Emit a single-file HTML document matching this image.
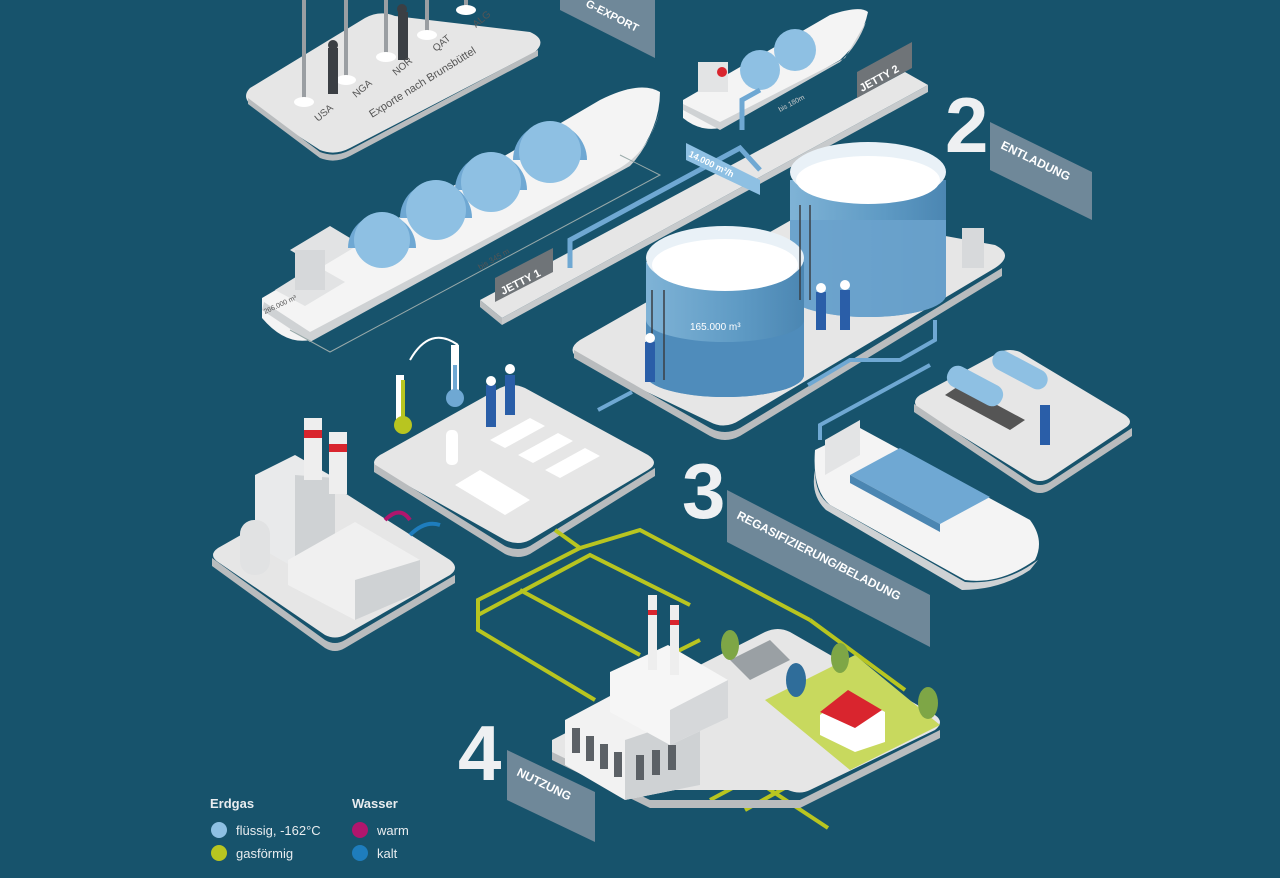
<!DOCTYPE html>
<html><head><meta charset="utf-8"><style>
html,body{margin:0;padding:0;background:#17536c;}
svg{display:block;font-family:"Liberation Sans",sans-serif;}
</style></head><body>
<svg width="1280" height="878" viewBox="0 0 1280 878" xmlns="http://www.w3.org/2000/svg">
<rect width="1280" height="878" fill="#17536c"/>
<defs>
<linearGradient id="tank" x1="0" x2="1"><stop offset="0" stop-color="#7fb3d6"/><stop offset="0.6" stop-color="#5e9ac4"/><stop offset="1" stop-color="#4b86b2"/></linearGradient>
</defs>

<!-- top-left flag platform -->
<path d="M250,88 L365,18 Q380,10 395,16 L530,32 Q548,40 535,52 L350,148 Q335,156 320,150 L255,108 Q240,98 250,88Z" fill="#e6e6e6"/>
<path d="M248,98 L320,152 Q335,158 350,150 L538,50 L538,56 L350,156 Q335,164 320,158 L248,104Z" fill="#b9bcbe"/>
<g stroke="#9a9ea2" stroke-width="4">
<line x1="304" y1="0" x2="304" y2="100"/><line x1="346" y1="0" x2="346" y2="78"/><line x1="386" y1="0" x2="386" y2="55"/><line x1="427" y1="0" x2="427" y2="34"/><line x1="466" y1="0" x2="466" y2="8"/>
</g>
<g fill="#fff"><ellipse cx="304" cy="102" rx="10" ry="5"/><ellipse cx="346" cy="80" rx="10" ry="5"/><ellipse cx="386" cy="57" rx="10" ry="5"/><ellipse cx="427" cy="35" rx="10" ry="5"/><ellipse cx="466" cy="10" rx="10" ry="5"/></g>
<g fill="#3b3f44"><rect x="328" y="48" width="10" height="46"/><circle cx="333" cy="45" r="5"/><rect x="398" y="12" width="10" height="48"/><circle cx="402" cy="9" r="5"/></g>
<g font-size="10" fill="#555" >
<text transform="translate(318,122) rotate(-40)">USA</text>
<text transform="translate(356,98) rotate(-40)">NGA</text>
<text transform="translate(396,76) rotate(-40)">NOR</text>
<text transform="translate(436,52) rotate(-40)">QAT</text>
<text transform="translate(476,28) rotate(-40)">ALG</text>
<text transform="translate(372,118) rotate(-32)" font-size="11">Exporte nach Brunsbüttel</text>
</g>
<!-- G-EXPORT label -->
<path d="M560,0 L655,0 L655,58 L560,10Z" fill="#6f8899"/>
<text transform="translate(585,6) rotate(27)" font-size="11" font-weight="bold" fill="#fff">G-EXPORT</text>

<!-- big ship -->
<path d="M262,298 L600,100 Q640,80 660,92 Q660,130 630,165 L310,340 Q285,345 262,318Z" fill="#f4f4f4"/>
<path d="M262,310 L310,342 L630,166 Q650,145 660,110 Q650,150 620,168 L310,332 L264,302Z" fill="#cfd2d4"/>
<g fill="#e2e3e4"><path d="M275,290 L315,265 L345,282 L305,306Z"/><path d="M290,250 L330,226 L360,244 L320,268Z"/><rect x="295" y="250" width="30" height="40" fill="#d6d8da"/></g>
<g fill="#6fa8d3"><path d="M348,248 a34,34 0 0 1 68,0Z"/><path d="M400,218 a36,36 0 0 1 72,0Z"/><path d="M455,190 a36,36 0 0 1 72,0Z"/><path d="M513,160 a37,37 0 0 1 74,0Z"/></g>
<g fill="#8ec0e3"><circle cx="382" cy="240" r="28"/><circle cx="436" cy="210" r="30"/><circle cx="491" cy="182" r="30"/><circle cx="550" cy="152" r="31"/></g>
<text transform="translate(265,314) rotate(-25)" font-size="7" fill="#555">266.000 m³</text>
<text transform="translate(480,270) rotate(-30)" font-size="8" fill="#555">bis 345 m</text>
<polyline points="290,330 330,352 660,175 620,155" fill="none" stroke="#9aa" stroke-width="1"/>

<!-- jetty 2 ship -->
<path d="M683,100 L830,15 Q860,5 868,12 Q862,40 840,60 L720,128 Q700,132 683,118Z" fill="#f4f4f4"/>
<path d="M683,110 L720,130 L840,62 Q858,45 866,22 L845,58 L720,122 L683,104Z" fill="#cfd2d4"/>
<rect x="698" y="62" width="30" height="30" fill="#e3e4e5"/>
<circle cx="722" cy="72" r="5" fill="#d9252e"/>
<g fill="#8ec0e3"><circle cx="760" cy="70" r="20"/><circle cx="795" cy="50" r="21"/></g>
<text transform="translate(780,112) rotate(-28)" font-size="7" fill="#ccc">bis 180m</text>
<!-- long pier -->
<path d="M480,300 L905,72 L928,85 L502,318Z" fill="#e6e6e6"/>
<path d="M480,300 L502,318 L502,325 L480,307Z" fill="#b9bcbe"/>
<path d="M502,318 L928,85 L928,92 L502,325Z" fill="#c7cacc"/>
<path d="M570,268 L570,240 L740,148 L760,170" fill="none" stroke="#6fa8d3" stroke-width="5"/>
<path d="M742,130 L742,100 L760,90" fill="none" stroke="#6fa8d3" stroke-width="5"/>
<!-- JETTY labels -->
<path d="M495,278 L553,248 L553,272 L495,302Z" fill="#6f7478"/>
<text transform="translate(503,295) rotate(-27)" font-size="11" font-weight="bold" fill="#fff">JETTY 1</text>
<path d="M857,72 L912,42 L912,68 L857,98Z" fill="#6f7478"/>
<text transform="translate(862,92) rotate(-29)" font-size="11" font-weight="bold" fill="#fff">JETTY 2</text>
<path d="M686,143 L760,180 L760,195 L686,160Z" fill="#8ec0e3"/>
<text transform="translate(688,156) rotate(26)" font-size="9" font-weight="bold" fill="#fff">14.000 m³/h</text>

<!-- 2 ENTLADUNG -->
<text x="945" y="152" font-size="78" font-weight="bold" fill="#eef0f2">2</text>
<path d="M990,122 L1092,172 L1092,220 L990,170Z" fill="#6f8899"/>
<text transform="translate(1000,148) rotate(26)" font-size="12" font-weight="bold" fill="#fff">ENTLADUNG</text>

<!-- tank platform -->
<path d="M580,340 L800,215 Q815,208 830,215 L995,245 Q1015,255 995,268 L740,420 Q725,430 710,422 L580,360 Q565,350 580,340Z" fill="#e6e6e6"/>
<path d="M574,350 L710,428 Q725,436 740,428 L1002,268 L1002,276 L740,436 Q725,444 710,436 L574,358Z" fill="#b9bcbe"/>
<!-- tank 2 (back) -->
<path d="M790,180 L790,295 A78,22 0 0 0 946,295 L946,180Z" fill="url(#tank)"/>
<ellipse cx="868" cy="172" rx="78" ry="30" fill="#e9f1f7"/>
<ellipse cx="868" cy="180" rx="72" ry="24" fill="#fff"/>
<path d="M790,180 L790,295 A78,22 0 0 0 946,295 L946,220 L790,220Z" fill="#6aa2cc" opacity="0.9"/>
<!-- tank 1 (front) -->
<path d="M646,262 L646,375 A79,22 0 0 0 804,375 L804,262Z" fill="url(#tank)"/>
<ellipse cx="725" cy="258" rx="79" ry="32" fill="#e9f1f7"/>
<ellipse cx="725" cy="265" rx="73" ry="26" fill="#fff"/>
<path d="M646,320 L646,375 A79,22 0 0 0 804,375 L804,320 A79,22 0 0 1 646,320Z" fill="#4f8cbb"/>
<text x="690" y="330" font-size="10" fill="#fff">165.000 m³</text>
<g stroke="#3a3f44" stroke-width="1.5" fill="none"><path d="M652,290 L652,380 M664,290 L664,380"/><path d="M800,205 L800,300 M810,205 L810,300"/></g>
<rect x="962" y="228" width="22" height="40" fill="#d7d9db"/>
<g fill="#2a5ea8"><rect x="816" y="292" width="10" height="38"/><rect x="840" y="290" width="10" height="40"/><rect x="645" y="342" width="10" height="40"/></g>
<g fill="#fff"><circle cx="821" cy="288" r="5"/><circle cx="845" cy="285" r="5"/><circle cx="650" cy="338" r="5"/></g>

<!-- pipes blue -->
<path d="M808,385 L850,360 L900,360 L935,340 L935,320" fill="none" stroke="#6fa8d3" stroke-width="4"/>
<path d="M598,410 L632,392" fill="none" stroke="#6fa8d3" stroke-width="4"/>
<path d="M820,440 L820,425 L930,365" fill="none" stroke="#6fa8d3" stroke-width="4"/>

<!-- truck platform -->
<path d="M920,395 L1000,352 Q1010,348 1020,352 L1125,415 Q1135,422 1125,428 L1050,478 Q1040,484 1030,478 L920,410 Q910,402 920,395Z" fill="#e6e6e6"/>
<path d="M914,404 L1030,482 Q1040,488 1050,482 L1132,428 L1132,436 L1050,490 Q1040,496 1030,490 L914,412Z" fill="#b9bcbe"/>
<path d="M945,395 L1010,430 L1025,420 L960,385Z" fill="#555"/>
<rect x="945" y="375" width="60" height="22" rx="10" fill="#8ec0e3" transform="rotate(28 975 386)"/>
<rect x="990" y="360" width="60" height="20" rx="10" fill="#8ec0e3" transform="rotate(28 1020 370)"/>
<rect x="1040" y="405" width="10" height="40" fill="#2a5ea8"/>

<!-- bottom right ship -->
<path d="M815,450 L860,428 L1030,520 Q1045,540 1035,560 Q1000,585 965,580 L830,505 Q812,490 815,450Z" fill="#f4f4f4"/>
<path d="M815,470 Q815,495 830,505 L965,582 Q1005,585 1038,560 L1030,570 Q1000,590 962,590 L826,510 Q810,495 815,470Z" fill="#cfd2d4"/>
<path d="M850,475 L900,448 L990,497 L940,524Z" fill="#6fa8d3"/>
<path d="M850,475 L940,524 L940,532 L850,483Z" fill="#4b86b2"/>
<path d="M825,440 L860,420 L860,455 L825,475Z" fill="#e3e4e5"/>

<!-- regas platform -->
<path d="M380,455 L500,388 Q512,382 525,388 L648,455 Q660,463 648,470 L530,540 Q518,546 505,540 L380,470 Q368,463 380,455Z" fill="#e6e6e6"/>
<path d="M374,464 L505,546 Q518,552 530,546 L655,468 L655,476 L530,554 Q518,560 505,554 L374,472Z" fill="#b9bcbe"/>
<g fill="#fff"><path d="M490,440 L530,418 L545,426 L505,448Z"/><path d="M518,455 L558,433 L573,441 L533,463Z"/><path d="M545,470 L585,448 L600,456 L560,478Z"/><path d="M455,485 L480,470 L530,500 L505,515Z"/><rect x="446" y="430" width="12" height="35" rx="5"/></g>
<g fill="#2a5ea8"><rect x="486" y="385" width="10" height="42"/><rect x="505" y="375" width="10" height="40"/></g>
<g fill="#fff"><circle cx="491" cy="381" r="5"/><circle cx="510" cy="369" r="5"/></g>
<path d="M400,375 L400,425" stroke="#fff" stroke-width="8"/><circle cx="403" cy="425" r="9" fill="#b8c520"/><path d="M403,380 L403,425" stroke="#b8c520" stroke-width="4"/>
<path d="M455,345 L455,395" stroke="#fff" stroke-width="8"/><circle cx="455" cy="398" r="9" fill="#6fa8d3"/><path d="M455,365 L455,398" stroke="#6fa8d3" stroke-width="4"/>
<path d="M410,360 Q430,325 458,345" stroke="#fff" stroke-width="2" fill="none"/>

<!-- power plant left platform -->
<path d="M218,548 L320,490 Q330,485 340,490 L450,560 Q460,568 450,575 L345,635 Q335,640 325,635 L218,562 Q208,555 218,548Z" fill="#e6e6e6"/>
<path d="M212,558 L325,640 Q335,646 345,640 L455,575 L455,583 L345,648 Q335,654 325,648 L212,566Z" fill="#b9bcbe"/>
<path d="M255,475 L295,455 L335,478 L335,545 L295,568 L255,545Z" fill="#e9eaeb"/>
<path d="M295,475 L335,478 L335,545 L295,568Z" fill="#cfd2d4"/>
<rect x="304" y="418" width="18" height="62" fill="#eee"/><rect x="304" y="430" width="18" height="8" fill="#d9252e"/>
<rect x="329" y="432" width="18" height="62" fill="#eee"/><rect x="329" y="444" width="18" height="8" fill="#d9252e"/>
<path d="M288,560 L355,522 L420,560 L420,592 L355,620 L288,585Z" fill="#f0f0f0"/>
<path d="M355,580 L420,560 L420,592 L355,620Z" fill="#cfd2d4"/>
<rect x="240" y="520" width="30" height="55" rx="14" fill="#e1e2e3"/>
<path d="M385,520 Q400,505 410,520" stroke="#b0166d" stroke-width="4" fill="none"/>
<path d="M410,535 Q425,520 440,525" stroke="#1e7dbd" stroke-width="4" fill="none"/>

<!-- 3 REGAS -->
<text x="682" y="518" font-size="78" font-weight="bold" fill="#eef0f2">3</text>
<path d="M727,490 L930,595 L930,647 L727,542Z" fill="#6f8899"/>
<text transform="translate(736,518) rotate(27)" font-size="12" font-weight="bold" fill="#fff">REGASIFIZIERUNG/BELADUNG</text>

<!-- gas lines -->
<g stroke="#b8c520" stroke-width="4" fill="none">
<path d="M555,530 L580,548 L478,600 L478,630 L595,700"/>
<path d="M580,548 L640,530 L810,620"/>
<path d="M520,590 L640,655"/>
<path d="M478,615 L590,555 L690,605"/>
<path d="M620,680 L700,640"/>
<path d="M810,620 L905,690"/>
<path d="M710,800 L800,752 M745,810 L835,760 M740,770 L828,828"/>
</g>

<!-- bottom platform -->
<path d="M552,740 L765,632 Q778,626 790,632 L935,715 Q945,722 935,730 L810,790 Q800,795 788,790 L660,790 L600,780 L552,755Z" fill="#e6e6e6"/>
<path d="M552,752 L650,800 L800,800 L940,730 L940,738 L800,808 L650,808 L552,760Z" fill="#b9bcbe"/>
<path d="M765,700 L855,655 L940,725 L850,770Z" fill="#c8d95e"/>
<path d="M730,660 L770,640 L790,660 L750,680Z" fill="#9aa0a4"/>
<path d="M565,720 L640,680 L700,715 L700,785 L625,800 L565,765Z" fill="#f2f2f2"/>
<path d="M625,740 L700,715 L700,785 L625,800Z" fill="#cfd2d4"/>
<g fill="#5c6166"><rect x="572" y="728" width="8" height="25"/><rect x="586" y="736" width="8" height="25"/><rect x="600" y="744" width="8" height="25"/><rect x="614" y="752" width="8" height="25"/><rect x="636" y="755" width="8" height="25"/><rect x="652" y="750" width="8" height="25"/><rect x="668" y="745" width="8" height="25"/></g>
<path d="M610,672 L668,645 L728,680 L728,718 L670,745 L610,712Z" fill="#f6f6f6"/>
<path d="M670,710 L728,680 L728,718 L670,745Z" fill="#d6d8da"/>
<rect x="648" y="595" width="9" height="75" fill="#eee"/><rect x="648" y="610" width="9" height="5" fill="#d9252e"/>
<rect x="670" y="605" width="9" height="70" fill="#eee"/><rect x="670" y="620" width="9" height="5" fill="#d9252e"/>
<path d="M820,715 L850,692 L885,712 L885,742 L855,752 L820,735Z" fill="#fff"/>
<path d="M820,712 L848,690 L882,710 L855,728Z" fill="#d9252e"/>
<g fill="#7ea646"><ellipse cx="730" cy="645" rx="9" ry="15"/><ellipse cx="840" cy="658" rx="9" ry="15"/><ellipse cx="928" cy="703" rx="10" ry="16"/></g>
<ellipse cx="796" cy="680" rx="10" ry="17" fill="#2f6d9a"/>

<!-- 4 NUTZUNG -->
<text x="458" y="780" font-size="78" font-weight="bold" fill="#eef0f2">4</text>
<path d="M507,750 L595,792 L595,842 L507,800Z" fill="#6f8899"/>
<text transform="translate(516,775) rotate(26)" font-size="12" font-weight="bold" fill="#fff">NUTZUNG</text>

<!-- legend -->
<g font-size="13" fill="#e8ecef">
<text x="210" y="808" font-weight="bold">Erdgas</text>
<text x="352" y="808" font-weight="bold">Wasser</text>
<circle cx="219" cy="830" r="8" fill="#8ec0e3"/><text x="236" y="835">flüssig, -162°C</text>
<circle cx="219" cy="853" r="8" fill="#b8c520"/><text x="236" y="858">gasförmig</text>
<circle cx="360" cy="830" r="8" fill="#b0166d"/><text x="377" y="835">warm</text>
<circle cx="360" cy="853" r="8" fill="#1e7dbd"/><text x="377" y="858">kalt</text>
</g>
</svg>
</body></html>
